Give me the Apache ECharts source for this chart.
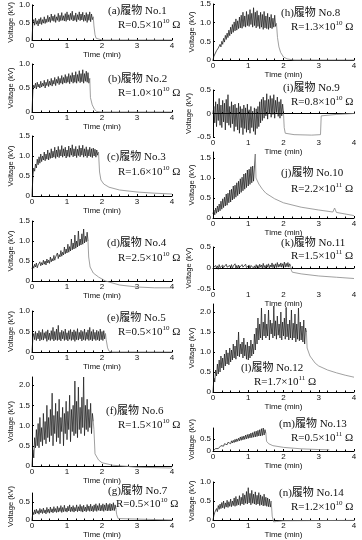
<!DOCTYPE html>
<html>
<head>
<meta charset="utf-8">
<script src="https://cdn.jsdelivr.net/npm/echarts@6/dist/echarts.min.js"></script>
<style>
html, body { margin: 0; padding: 0; background: #fff; }
#chart { width: 362px; height: 540px; }
</style>
</head>
<body>
<div id="chart"></div>
<script>
// noisy part: one value every 0.025 min from t = 0; tail: [time (min), kV]
const DT = 0.025;

const noiseA = [0, 0.5, 0.58, 0.42, 0.62, 0.45, 0.55, 0.4, 0.6, 0.46,
  0.64, 0.44, 0.58, 0.48, 0.66, 0.47, 0.6, 0.5, 0.7, 0.52,
  0.65, 0.5, 0.74, 0.55, 0.68, 0.53, 0.72, 0.5, 0.66, 0.56,
  0.76, 0.52, 0.7, 0.55, 0.78, 0.56, 0.69, 0.54, 0.75, 0.53,
  0.8, 0.57, 0.72, 0.55, 0.76, 0.58, 0.82, 0.54, 0.7, 0.56,
  0.77, 0.52, 0.72, 0.58, 0.8, 0.55, 0.74, 0.57, 0.79, 0.53,
  0.71, 0.55, 0.78, 0.5, 0.73, 0.56, 0.8, 0.52, 0.74, 0.58, 0.66];
const tailA = [[1.77, 0.4], [1.8, 0.15], [1.83, 0.05], [1.88, 0.01], [2, 0], [4, 0]];

const noiseB = [0, 0.45, 0.56, 0.5, 0.6, 0.48, 0.62, 0.52, 0.58, 0.5,
  0.64, 0.52, 0.6, 0.54, 0.66, 0.5, 0.62, 0.55, 0.68, 0.53,
  0.64, 0.56, 0.7, 0.54, 0.66, 0.58, 0.72, 0.55, 0.68, 0.6,
  0.74, 0.57, 0.7, 0.6, 0.76, 0.58, 0.72, 0.61, 0.78, 0.6,
  0.74, 0.62, 0.8, 0.59, 0.76, 0.63, 0.82, 0.6, 0.77, 0.62,
  0.84, 0.6, 0.78, 0.64, 0.86, 0.61, 0.8, 0.63, 0.88, 0.6,
  0.8, 0.64, 0.85, 0.62, 0.82, 0.6, 0.7];
const tailB = [[1.67, 0.3], [1.72, 0.15], [1.78, 0.06], [1.85, 0.01], [2, 0], [4, 0]];

const noiseC = [0, 0.5, 0.7, 0.62, 0.8, 0.7, 0.92, 0.78, 0.98, 0.82,
  1.05, 0.86, 1.0, 0.9, 1.1, 0.88, 1.05, 0.92, 1.15, 0.9,
  1.08, 0.94, 1.18, 0.95, 1.12, 0.97, 1.22, 0.94, 1.15, 0.98,
  1.24, 0.96, 1.16, 1.0, 1.26, 0.97, 1.18, 1.0, 1.22, 0.95,
  1.15, 0.99, 1.25, 0.97, 1.2, 1.02, 1.28, 0.98, 1.18, 1.0,
  1.24, 0.96, 1.17, 1.01, 1.26, 0.98, 1.2, 1.02, 1.27, 0.97,
  1.18, 1.0, 1.23, 0.96, 1.16, 1.0, 1.22, 0.98, 1.18, 0.96,
  1.2, 1.0, 1.17, 0.97, 1.15, 1.02, 1.1];
const tailC = [[1.93, 0.6], [1.97, 0.4], [2.05, 0.3], [2.2, 0.22], [2.5, 0.15], [3, 0.1], [3.5, 0.07], [4, 0.05]];

const noiseD = [0.3, 0.38, 0.32, 0.42, 0.35, 0.45, 0.33, 0.4, 0.37, 0.48,
  0.38, 0.46, 0.4, 0.52, 0.42, 0.5, 0.4, 0.55, 0.45, 0.52,
  0.44, 0.6, 0.48, 0.56, 0.5, 0.64, 0.52, 0.6, 0.55, 0.7,
  0.56, 0.66, 0.6, 0.76, 0.62, 0.72, 0.65, 0.85, 0.68, 0.8,
  0.7, 0.92, 0.72, 0.86, 0.75, 1.05, 0.78, 0.95, 0.8, 1.15,
  0.82, 1.0, 0.85, 1.25, 0.88, 1.05, 0.9, 1.18, 0.92, 1.3,
  0.95, 1.12, 0.98, 1.22, 1.0];
const tailD = [[1.62, 0.6], [1.66, 0.35], [1.75, 0.2], [1.9, 0.1], [2.1, 0.0], [2.5, -0.1], [3, -0.15], [3.5, -0.17], [4, -0.17]];

const noiseE = [0, 0.35, 0.45, 0.3, 0.5, 0.28, 0.46, 0.32, 0.52, 0.27,
  0.48, 0.3, 0.55, 0.29, 0.47, 0.33, 0.5, 0.26, 0.54, 0.3,
  0.46, 0.28, 0.52, 0.31, 0.6, 0.27, 0.5, 0.3, 0.56, 0.28,
  0.65, 0.3, 0.48, 0.27, 0.53, 0.32, 0.5, 0.28, 0.56, 0.3,
  0.47, 0.27, 0.52, 0.31, 0.55, 0.28, 0.49, 0.3, 0.54, 0.26,
  0.5, 0.3, 0.57, 0.29, 0.48, 0.32, 0.53, 0.27, 0.5, 0.3,
  0.56, 0.28, 0.48, 0.31, 0.54, 0.28, 0.6, 0.3, 0.5, 0.27,
  0.55, 0.31, 0.48, 0.28, 0.53, 0.3, 0.5, 0.27, 0.56, 0.3,
  0.5, 0.28, 0.52, 0.32, 0.45];
const tailE = [[2.12, 0.3], [2.16, 0.1], [2.2, 0.02], [2.3, 0], [4, 0]];

const noiseF = [0, 0.4, 0.2, 0.7, 0.45, 0.9, 0.5, 1.05, 0.45, 1.2,
  0.6, 0.95, 0.5, 1.3, 0.65, 1.1, 0.55, 1.5, 0.7, 1.2,
  0.6, 1.4, 0.75, 1.8, 0.5, 1.25, 0.8, 1.55, 0.6, 1.35,
  0.7, 1.65, 0.55, 1.2, 0.85, 1.45, 0.5, 1.3, 0.8, 1.6,
  0.65, 1.35, 0.9, 1.75, 0.6, 1.4, 0.85, 1.5, 0.75, 2.1,
  0.8, 1.6, 0.7, 1.95, 0.9, 1.45, 0.8, 1.7, 0.95, 2.2,
  0.75, 1.5, 0.9, 1.65, 0.85, 1.4, 0.95, 1.55, 0.8, 1.3, 1.1];
const tailF = [[1.77, 0.9], [1.8, 0.3], [1.9, 0.15], [2.0, 0.08], [2.3, 0.02], [3, -0.03], [4, -0.05]];

const noiseG = [0, 0.22, 0.15, 0.28, 0.17, 0.3, 0.19, 0.26, 0.16, 0.32,
  0.2, 0.29, 0.18, 0.33, 0.2, 0.28, 0.17, 0.35, 0.21, 0.3,
  0.19, 0.36, 0.22, 0.31, 0.2, 0.37, 0.23, 0.32, 0.21, 0.38,
  0.22, 0.34, 0.24, 0.4, 0.21, 0.35, 0.23, 0.41, 0.24, 0.33,
  0.22, 0.38, 0.25, 0.42, 0.23, 0.36, 0.24, 0.4, 0.22, 0.35,
  0.25, 0.42, 0.23, 0.37, 0.25, 0.43, 0.24, 0.38, 0.22, 0.41,
  0.25, 0.36, 0.23, 0.43, 0.26, 0.39, 0.24, 0.44, 0.25, 0.38,
  0.23, 0.42, 0.26, 0.45, 0.24, 0.4, 0.27, 0.46, 0.25, 0.41,
  0.26, 0.45, 0.24, 0.42, 0.27, 0.47, 0.25, 0.43, 0.26, 0.46,
  0.25, 0.44, 0.27, 0.48, 0.26, 0.42, 0.3];
const tailG = [[2.42, 0.15], [2.46, 0.04], [2.5, 0], [4, 0]];

const noiseH = [0, 0.1, 0.15, 0.12, 0.25, 0.2, 0.32, 0.28, 0.42, 0.35,
  0.5, 0.42, 0.58, 0.48, 0.66, 0.55, 0.72, 0.6, 0.8, 0.65,
  0.88, 0.7, 0.95, 0.74, 1.02, 0.78, 1.1, 0.8, 1.05, 0.84,
  1.15, 0.86, 1.2, 0.85, 1.28, 0.9, 1.18, 0.88, 1.3, 0.92,
  1.22, 0.9, 1.35, 0.95, 1.25, 0.88, 1.4, 0.92, 1.28, 0.86,
  1.32, 0.9, 1.2, 0.84, 1.28, 0.88, 1.22, 0.82, 1.3, 0.86,
  1.18, 0.84, 1.25, 0.82, 1.15, 0.86, 1.22, 0.84, 1.12, 0.88,
  1.2, 0.9, 0.98];
const tailH = [[1.83, 0.6], [1.87, 0.35], [1.92, 0.2], [2.0, 0.08], [2.1, 0.03], [2.3, 0], [4, 0]];

const noiseI = [0, 0.15, -0.2, 0.25, -0.28, 0.2, -0.15, 0.32, -0.25, 0.18,
  -0.3, 0.28, -0.18, 0.22, -0.35, 0.3, -0.2, 0.4, -0.25, 0.15,
  -0.3, 0.25, -0.22, 0.18, -0.38, 0.2, -0.28, 0.12, -0.35, 0.22,
  -0.42, 0.15, -0.3, 0.1, -0.45, 0.18, -0.32, 0.12, -0.4, 0.2,
  -0.35, 0.08, -0.42, 0.15, -0.3, 0.05, -0.38, 0.12, -0.45, 0.1,
  -0.32, 0.15, -0.28, 0.25, -0.2, 0.3, -0.15, 0.35, -0.1, 0.28,
  -0.05, 0.42, -0.12, 0.3, 0.0, 0.38, -0.08, 0.32, -0.02, 0.4,
  -0.1, 0.28, 0.02, 0.35, -0.06, 0.25, -0.1, 0.3, -0.05, 0.2, 0];
const tailI = [[2.02, -0.3], [2.05, -0.42], [2.3, -0.45], [2.8, -0.46], [3.05, -0.45], [3.07, -0.05], [3.5, -0.02], [4, 0]];

const noiseJ = [0.1, 0.2, 0.08, 0.25, 0.12, 0.3, 0.15, 0.35, 0.18, 0.42,
  0.22, 0.48, 0.26, 0.52, 0.3, 0.6, 0.32, 0.62, 0.38, 0.7,
  0.4, 0.72, 0.45, 0.8, 0.48, 0.82, 0.52, 0.88, 0.56, 0.92,
  0.6, 0.98, 0.64, 1.02, 0.68, 1.1, 0.72, 1.12, 0.76, 1.2,
  0.8, 1.22, 0.84, 1.28, 0.88, 1.3, 0.92, 1.25, 1.6];
const tailJ = [[1.22, 1.0], [1.3, 0.85], [1.4, 0.72], [1.5, 0.62], [1.75, 0.48], [2.0, 0.38], [2.5, 0.27], [3.0, 0.2], [3.4, 0.15], [3.45, 0.25], [3.5, 0.14], [4, 0.06]];

const noiseK = [0, 0.04, -0.02, 0.06, 0, 0.05, -0.03, 0.08, 0.01, 0.05,
  -0.02, 0.07, 0.01, 0.04, -0.01, 0.09, 0.02, 0.05, -0.02, 0.06,
  0.01, 0.08, -0.01, 0.05, 0.02, 0.1, 0, 0.06, -0.02, 0.07,
  0.01, 0.05, -0.01, 0.08, 0.02, 0.06, -0.02, 0.09, 0.01, 0.05,
  0, 0.07, -0.02, 0.06, 0.02, 0.1, 0, 0.05, -0.01, 0.08,
  0.01, 0.06, -0.02, 0.09, 0.02, 0.07, 0, 0.11, 0.01, 0.06,
  -0.01, 0.08, 0.02, 0.1, 0, 0.07, 0.02, 0.12, 0.01, 0.08,
  0.03, 0.1, 0.01, 0.13, 0.02, 0.09, 0.03, 0.12, 0.02, 0.1,
  0.04, 0.14, 0.02, 0.11, 0.03, 0.13, 0.02, 0.1, 0.05];
const tailK = [[2.22, -0.05], [2.25, -0.1], [2.5, -0.14], [3, -0.19], [3.5, -0.22], [4, -0.25]];

const noiseL = [0, 0.35, 0.25, 0.55, 0.4, 0.7, 0.45, 0.8, 0.5, 0.9,
  0.6, 0.85, 0.55, 0.95, 0.65, 1.05, 0.7, 0.98, 0.68, 1.1,
  0.75, 1.05, 0.8, 1.2, 0.85, 1.15, 0.82, 1.3, 0.9, 1.5,
  0.88, 1.2, 0.95, 1.25, 0.85, 1.35, 0.9, 1.18, 0.82, 1.25,
  0.8, 1.15, 0.85, 1.3, 0.9, 1.2, 0.95, 1.45, 1.05, 1.6,
  1.2, 1.85, 1.3, 1.7, 1.35, 2.1, 1.3, 1.75, 1.4, 1.95,
  1.35, 1.7, 1.4, 2.05, 1.3, 1.8, 1.45, 1.72, 1.35, 2.15,
  1.4, 1.78, 1.32, 1.9, 1.42, 1.7, 1.35, 2.0, 1.3, 1.75,
  1.4, 1.85, 1.32, 2.1, 1.38, 1.7, 1.3, 1.8, 1.35, 2.05,
  1.3, 1.72, 1.35, 1.95, 1.25, 1.7, 1.32, 2.1, 1.28, 1.75,
  1.3, 1.65, 1.25, 1.8, 1.2, 1.6, 1.5];
const tailL = [[2.67, 1.1], [2.75, 0.9], [2.9, 0.72], [3.0, 0.65], [3.25, 0.55], [3.5, 0.48], [3.75, 0.42], [4, 0.37]];

const noiseM = [0, 0.05, 0.02, 0.1, 0.06, 0.14, 0.1, 0.18, 0.14, 0.22,
  0.18, 0.26, 0.2, 0.3, 0.24, 0.32, 0.26, 0.36, 0.28, 0.38,
  0.3, 0.42, 0.33, 0.44, 0.35, 0.48, 0.37, 0.5, 0.4, 0.53,
  0.42, 0.58, 0.44, 0.6, 0.46, 0.62, 0.48, 0.66, 0.5, 0.68,
  0.52, 0.7, 0.54, 0.74, 0.55, 0.76, 0.57, 0.8, 0.58, 0.82,
  0.6, 0.85, 0.62, 0.88, 0.62, 0.92, 0.64, 0.95, 0.66, 0.88, 0.72];
const tailM = [[1.52, 0.4], [1.58, 0.3], [1.7, 0.22], [2.0, 0.15], [2.5, 0.09], [3.0, 0.06], [3.3, 0.05]];

const noiseN = [0, 0.12, 0.2, 0.15, 0.3, 0.22, 0.38, 0.28, 0.42, 0.3,
  0.46, 0.32, 0.5, 0.3, 0.45, 0.34, 0.52, 0.33, 0.48, 0.36,
  0.55, 0.35, 0.5, 0.38, 0.58, 0.36, 0.62, 0.38, 0.55, 0.4,
  0.64, 0.38, 0.6, 0.42, 0.7, 0.4, 0.66, 0.44, 0.75, 0.42,
  0.85, 0.45, 0.7, 0.4, 0.78, 0.44, 0.68, 0.42, 0.74, 0.4,
  0.65, 0.42, 0.72, 0.38, 0.66, 0.4, 0.62, 0.37, 0.68, 0.38,
  0.6, 0.36, 0.58, 0.35, 0.55, 0.34, 0.5];
const tailN = [[1.68, 0.1], [1.72, -0.05], [1.8, -0.04], [2, -0.02], [4, -0.01]];

const xTicks = [0, 1, 2, 3, 4];
const sampleNames = ['(a)履物 No.1', '(b)履物 No.2', '(c)履物 No.3', '(d)履物 No.4', '(e)履物 No.5', '(f)履物 No.6', '(g)履物 No.7',
  '(h)履物 No.8', '(i)履物 No.9', '(j)履物 No.10', '(k)履物 No.11', '(l)履物 No.12', '(m)履物 No.13', '(n)履物 No.14'];
const resMantissa = ['0.5', '1.0', '1.6', '2.5', '0.5', '1.5', '0.5', '1.3', '0.8', '2.2', '1.5', '1.7', '0.5', '1.2'];
const resExponent = ['10', '10', '10', '10', '10', '10', '10', '10', '10', '11', '11', '11', '11', '10'];

// layout of each small plot (pixels) and its voltage range
const panels = [
  { noise: noiseA, tail: tailA, left: 32, top: 1, h: 39, min: 0, max: 1.0, lab: [108, 13], res: [118, 25] },
  { noise: noiseB, tail: tailB, left: 32, top: 64, h: 48, min: 0, max: 1.0, lab: [108, 81], res: [118, 93] },
  { noise: noiseC, tail: tailC, left: 32, top: 136, h: 60, min: 0, max: 1.5, lab: [107, 159], res: [118, 172] },
  { noise: noiseD, tail: tailD, left: 32, top: 221, h: 60, min: 0, max: 1.5, lab: [107, 245], res: [118, 258] },
  { noise: noiseE, tail: tailE, left: 32, top: 311, h: 41, min: 0, max: 1.0, lab: [107, 320], res: [118, 332] },
  { noise: noiseF, tail: tailF, left: 32, top: 377, h: 89, min: 0, max: 2.2, lab: [106, 413], res: [118, 425] },
  { noise: noiseG, tail: tailG, left: 32, top: 493, h: 30, min: 0, max: 0.75, lab: [108, 493], res: [116, 504] },
  { noise: noiseH, tail: tailH, left: 213, top: 0, h: 60, min: 0, max: 1.5, lab: [281, 15], res: [291, 27] },
  { noise: noiseI, tail: tailI, left: 213, top: 90, h: 47, min: -0.5, max: 0.5, lab: [283, 90], res: [291, 102] },
  { noise: noiseJ, tail: tailJ, left: 213, top: 152, h: 66, min: 0, max: 1.65, lab: [281, 175], res: [291, 189] },
  { noise: noiseK, tail: tailK, left: 213, top: 247, h: 42, min: -0.5, max: 0.5, lab: [281, 245], res: [291, 256] },
  { noise: noiseL, tail: tailL, left: 213, top: 304, h: 88, min: 0, max: 2.2, lab: [241, 370], res: [254, 382] },
  { noise: noiseM, tail: tailM, left: 213, top: 428, h: 23, min: 0, max: 0.95, lab: [279, 426], res: [291, 438] },
  { noise: noiseN, tail: tailN, left: 213, top: 482, h: 40, min: 0, max: 1.0, lab: [279, 495], res: [291, 507] }
];

const sans = "'Liberation Sans', Arial, sans-serif";
const serif = "'Liberation Serif', 'Noto Sans CJK JP', serif";

const grid = [], xAxis = [], yAxis = [], series = [], title = [];

panels.forEach(function (p, i) {
  grid.push({ left: p.left, top: p.top, width: i < 7 ? 140 : 141, height: p.h });
  xAxis.push({
    type: 'value', gridIndex: i, min: xTicks[0], max: xTicks[xTicks.length - 1], interval: 1,
    name: 'Time (min)', nameLocation: 'middle', nameGap: 11,
    nameTextStyle: { fontFamily: sans, fontSize: 8, color: '#111' },
    axisLine: { lineStyle: { color: '#000', width: 1 } },
    axisTick: { inside: true, length: 2, lineStyle: { color: '#000' } },
    minorTick: { show: true, splitNumber: 4, length: 1.5, lineStyle: { color: '#000' } },
    axisLabel: { fontFamily: sans, fontSize: 8, color: '#111', margin: 2 },
    splitLine: { show: false }
  });
  yAxis.push({
    type: 'value', gridIndex: i, min: p.min, max: p.max, interval: 0.5,
    name: 'Voltage (kV)', nameLocation: 'middle', nameGap: 14,
    nameTextStyle: { fontFamily: sans, fontSize: 7.5, color: '#111' },
    axisLine: { show: true, lineStyle: { color: '#000', width: 1 } },
    axisTick: { show: true, inside: true, length: 2, lineStyle: { color: '#000' } },
    axisLabel: {
      fontFamily: sans, fontSize: 8, color: '#111', margin: 2, showMaxLabel: p.max % 0.5 === 0,
      formatter: function (v) { return v === 0 ? '0' : v.toFixed(1); }
    },
    splitLine: { show: false }
  });
  const noisePts = p.noise.map(function (v, k) { return [+(k * DT).toFixed(3), v]; });
  const tailPts = [noisePts[noisePts.length - 1]].concat(p.tail);
  series.push({
    type: 'line', xAxisIndex: i, yAxisIndex: i, data: noisePts, symbol: 'none', clip: false,
    lineStyle: { color: '#111', width: 0.7 }, z: 3, silent: true
  });
  series.push({
    type: 'line', xAxisIndex: i, yAxisIndex: i, data: tailPts, symbol: 'none', clip: false,
    lineStyle: { color: '#888', width: 0.8 }, z: 3, silent: true
  });
  title.push({
    text: sampleNames[i], left: p.lab[0], top: p.lab[1] - 7, padding: 0,
    textStyle: { fontFamily: serif, fontSize: 11, fontWeight: 'normal', color: '#111' }
  });
  title.push({
    text: '{n|R=' + resMantissa[i] + '×10}{s|' + resExponent[i] + '}{n| Ω}',
    left: p.res[0], top: p.res[1] - 7, padding: 0,
    textStyle: {
      fontFamily: serif, fontSize: 11, fontWeight: 'normal', color: '#111',
      rich: {
        n: { fontFamily: serif, fontSize: 11, color: '#111', lineHeight: 14 },
        s: { fontFamily: serif, fontSize: 7, color: '#111', verticalAlign: 'top', lineHeight: 14, padding: [0, 0, 6, 0] }
      }
    }
  });
});

const chart = echarts.init(document.getElementById('chart'), null, { renderer: 'canvas' });
chart.setOption({
  animation: false,
  backgroundColor: '#fff',
  title: title,
  grid: grid,
  xAxis: xAxis,
  yAxis: yAxis,
  series: series
});
</script>
</body>
</html>
